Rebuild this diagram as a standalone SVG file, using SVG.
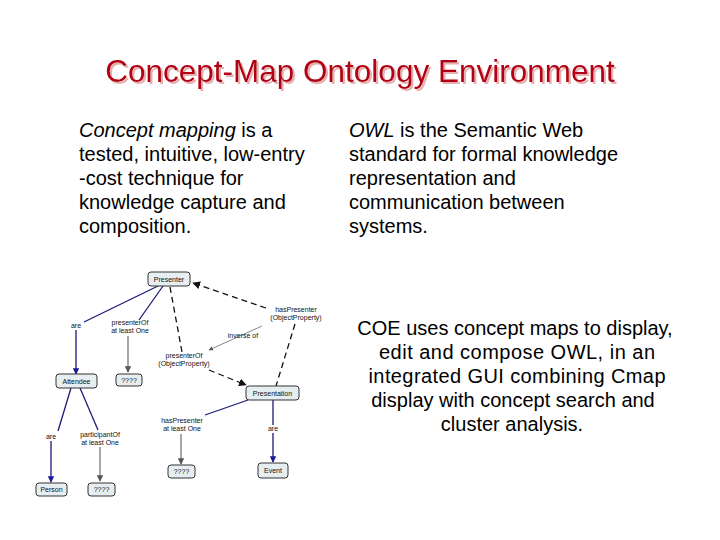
<svg xmlns="http://www.w3.org/2000/svg" width="720" height="540" viewBox="0 0 720 540">
<defs>
<style>
.title{font-family:"Liberation Sans",Arial,sans-serif;font-size:31.5px;fill:#b30012}
.body{font-family:"Liberation Sans",Arial,sans-serif;font-size:20px;fill:#000}
.node rect{fill:#e6eef2;stroke:#333;stroke-width:1}
.node text,.lbl{font-family:"Liberation Sans",Arial,sans-serif;font-size:7px;fill:#111;text-anchor:middle}
.blue{stroke:#1a1a7a;stroke-width:1.3;fill:none}
.gray{stroke:#777;stroke-width:1.3;fill:none}
.dash{stroke:#111;stroke-width:1.3;fill:none;stroke-dasharray:6,4}
.thin{stroke:#777;stroke-width:0.9;fill:none}
</style>
<filter id="sh" x="-5%" y="-20%" width="110%" height="150%"><feDropShadow dx="2" dy="2" stdDeviation="0.6" flood-color="#e2a8a8" flood-opacity="0.9"/></filter>
<marker id="ab" viewBox="0 0 10 10" refX="9" refY="5" markerWidth="5" markerHeight="5" orient="auto"><path d="M0,0L10,5L0,10z" fill="#1a1a9a"/></marker>
<marker id="ag" viewBox="0 0 10 10" refX="9" refY="5" markerWidth="5" markerHeight="5" orient="auto"><path d="M0,0L10,5L0,10z" fill="#555"/></marker>
<marker id="ak" viewBox="0 0 10 10" refX="9" refY="5" markerWidth="6" markerHeight="6" orient="auto"><path d="M0,0L10,5L0,10z" fill="#111"/></marker>
</defs>
<rect width="720" height="540" fill="#fff"/>
<text class="title" x="360" y="82" text-anchor="middle" filter="url(#sh)">Concept-Map Ontology Environment</text>
<g id="left-text" class="body">
<text x="79" y="137"><tspan font-style="italic">Concept mapping</tspan> is a</text>
<text x="79" y="161">tested, intuitive, low-entry</text>
<text x="79" y="185">-cost technique for</text>
<text x="79" y="209">knowledge capture and</text>
<text x="79" y="233">composition.</text>
</g>
<g id="right-text" class="body">
<text x="349" y="137"><tspan font-style="italic">OWL</tspan> is the Semantic Web</text>
<text x="349" y="161">standard for formal knowledge</text>
<text x="349" y="185">representation and</text>
<text x="349" y="209">communication between</text>
<text x="349" y="233">systems.</text>
</g>
<g id="coe-text" class="body" text-anchor="middle">
<text x="515" y="335">COE uses concept maps to display,</text>
<text x="517" y="359" textLength="276">edit and compose OWL, in an</text>
<text x="517" y="383" textLength="297">integrated GUI combining Cmap</text>
<text x="513" y="407">display with concept search and</text>
<text x="512" y="431">cluster analysis.</text>
</g>
<g id="connectors">
<path class="blue" d="M158,286 L84,322"/>
<path class="blue" d="M76,330 L76,374" marker-end="url(#ab)"/>
<path class="blue" d="M163,286 L139,320"/>
<path class="gray" d="M128,336 L128,372" marker-end="url(#ag)"/>
<path class="dash" d="M170,287 L182,352"/>
<path class="dash" d="M266,308 L193,283" marker-end="url(#ak)"/>
<path class="dash" d="M295,324 L276,386"/>
<path class="dash" d="M209,370 L246,385" marker-end="url(#ak)"/>
<path class="thin" d="M262,326 L209,350" marker-end="url(#ag)"/>
<path class="blue" d="M248,400 L205,415"/>
<path class="gray" d="M181,434 L181,464" marker-end="url(#ag)"/>
<path class="blue" d="M273,400 L273,425"/>
<path class="blue" d="M273,433 L273,462" marker-end="url(#ab)"/>
<path class="blue" d="M71,388 L58,431"/>
<path class="blue" d="M51,441 L51,482" marker-end="url(#ab)"/>
<path class="blue" d="M80,388 L98,430"/>
<path class="gray" d="M100,447 L100,481" marker-end="url(#ag)"/>
</g>
<g id="labels">
<text class="lbl" x="76" y="328">are</text>
<text class="lbl" x="130" y="325">presenterOf</text>
<text class="lbl" x="130" y="333">at least One</text>
<text class="lbl" x="296" y="312">hasPresenter</text>
<text class="lbl" x="296" y="320">(ObjectProperty)</text>
<text class="lbl" x="243" y="338">inverse of</text>
<text class="lbl" x="184" y="358">presenterOf</text>
<text class="lbl" x="184" y="366">(ObjectProperty)</text>
<text class="lbl" x="182" y="423">hasPresenter</text>
<text class="lbl" x="182" y="431">at least One</text>
<text class="lbl" x="273" y="431">are</text>
<text class="lbl" x="51" y="439">are</text>
<text class="lbl" x="100" y="437">participantOf</text>
<text class="lbl" x="100" y="445">at least One</text>
</g>
<g id="n-presenter" class="node"><rect x="148" y="272" width="42" height="14" rx="3"/><text x="169" y="281.5">Presenter</text></g>
<g id="n-attendee" class="node"><rect x="56" y="374" width="41" height="14" rx="3"/><text x="76.5" y="383.5">Attendee</text></g>
<g id="n-q1" class="node"><rect x="116" y="374" width="26" height="12" rx="3"/><text x="129" y="382.5">????</text></g>
<g id="n-presentation" class="node"><rect x="246" y="386" width="53" height="14" rx="3"/><text x="272.5" y="395.5">Presentation</text></g>
<g id="n-q2" class="node"><rect x="168" y="465" width="27" height="13" rx="3"/><text x="181.5" y="474">????</text></g>
<g id="n-event" class="node"><rect x="258" y="463" width="30" height="15" rx="3"/><text x="273" y="473">Event</text></g>
<g id="n-person" class="node"><rect x="36" y="483" width="31" height="13" rx="3"/><text x="51.5" y="492">Person</text></g>
<g id="n-q3" class="node"><rect x="88" y="483" width="27" height="13" rx="3"/><text x="101.5" y="492">????</text></g>
</svg>
